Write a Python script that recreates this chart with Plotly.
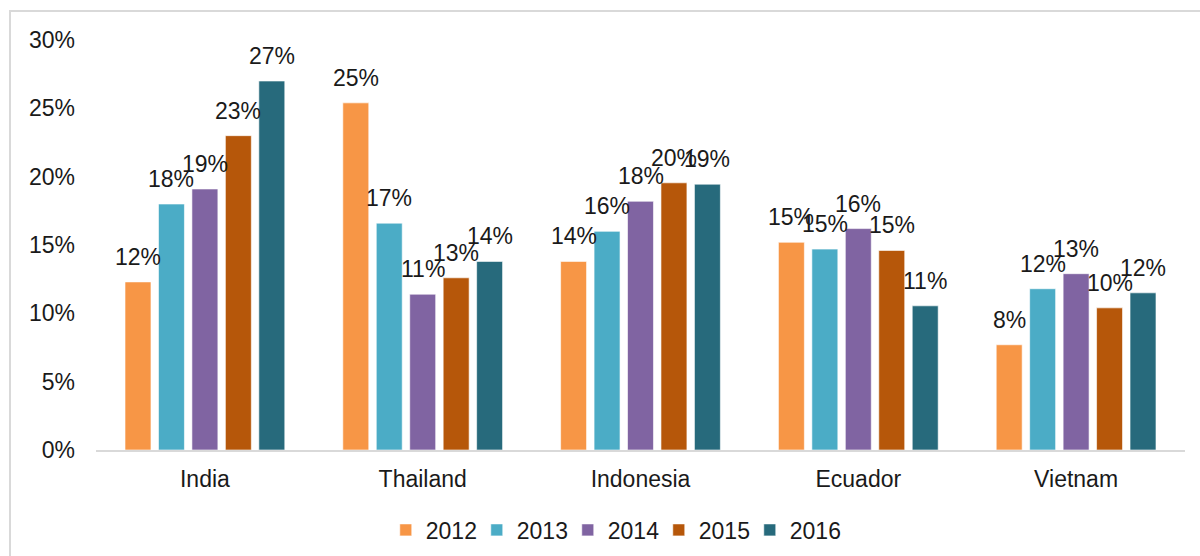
import plotly.graph_objects as go

# Share of shipments by origin country, 2012-2016
countries = ["India", "Thailand", "Indonesia", "Ecuador", "Vietnam"]
years = ["2012", "2013", "2014", "2015", "2016"]

share_2012 = [0.123, 0.254, 0.138, 0.152, 0.077]
share_2013 = [0.180, 0.166, 0.160, 0.147, 0.118]
share_2014 = [0.191, 0.114, 0.182, 0.162, 0.129]
share_2015 = [0.230, 0.126, 0.1955, 0.146, 0.104]
share_2016 = [0.270, 0.138, 0.1945, 0.1055, 0.115]

series = [share_2012, share_2013, share_2014, share_2015, share_2016]
colors = ["#F79646", "#4BACC6", "#8064A2", "#B6570A", "#276A7C"]

FONT = "Liberation Sans, Arial, sans-serif"
FS = 23
W, H = 1200, 556
M_L, M_R, M_T, M_B = 96, 15, 40, 106
BARGAP, GROUPGAP = 0.232, 0.224

fig = go.Figure()
for year, vals, col in zip(years, series, colors):
    fig.add_trace(go.Bar(
        name=year, x=countries, y=vals,
        marker=dict(color=col, line=dict(color="rgba(255,255,255,0.6)", width=1)),
        hoverinfo="skip",
    ))

# value labels above each bar, offset horizontally to the bar's slot in its group
plot_w = W - M_L - M_R
slot = plot_w / len(countries) * (1 - BARGAP) / len(years)
annotations = []
for j, vals in enumerate(series):
    for c, v in zip(countries, vals):
        annotations.append(dict(
            x=c, y=v, xref="x", yref="y",
            text=f"{round(v * 100)}%",
            showarrow=False, yanchor="bottom", xanchor="center",
            xshift=(j - (len(years) - 1) / 2) * slot, yshift=10,
            font=dict(family=FONT, size=FS, color="#1a1a1a"),
        ))

fig.update_layout(
    width=W, height=H,
    margin=dict(l=M_L, r=M_R, t=M_T, b=M_B, autoexpand=False),
    paper_bgcolor="white", plot_bgcolor="white",
    barmode="group", bargap=BARGAP, bargroupgap=GROUPGAP,
    font=dict(family=FONT, size=FS, color="#1a1a1a"),
    xaxis=dict(
        showgrid=False, showline=True, linecolor="#d9d9d9", linewidth=2,
        ticks="", ticklabelstandoff=7, tickfont=dict(size=FS), automargin=False,
    ),
    yaxis=dict(
        range=[0, 0.30], dtick=0.05, tickformat=".0%",
        showgrid=False, zeroline=False, showline=False,
        ticks="", ticklabelstandoff=20, tickfont=dict(size=FS), automargin=False,
    ),
    legend=dict(
        orientation="h", x=0.475, xanchor="center", y=-0.195, yanchor="middle",
        font=dict(size=FS), itemwidth=30, traceorder="normal",
        entrywidth=46, entrywidthmode="pixels",
    ),
    annotations=annotations,
    shapes=[dict(
        type="rect", xref="paper", yref="paper",
        xsizemode="pixel", ysizemode="pixel", xanchor=0, yanchor=1,
        x0=-86, x1=1500, y0=29, y1=-1000,
        line=dict(color="#d9d9d9", width=2), fillcolor="rgba(0,0,0,0)",
        layer="below",
    )],
)

fig.write_html("out.html")
